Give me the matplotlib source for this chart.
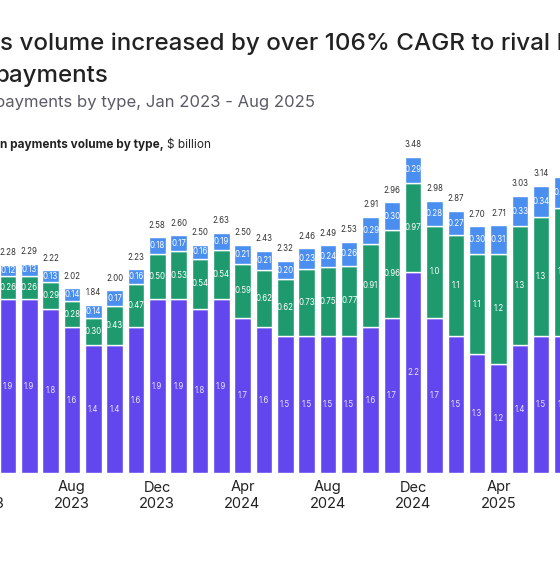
import matplotlib
matplotlib.use("Agg")
import matplotlib.pyplot as plt
import matplotlib.transforms as mtransforms

plt.rcParams['font.family'] = ['Inter', 'DejaVu Sans']

# Data (May 2023 .. Jul 2025), $ billion
months = ["May 2023", "Jun 2023", "Jul 2023", "Aug 2023", "Sep 2023", "Oct 2023", "Nov 2023", "Dec 2023",
          "Jan 2024", "Feb 2024", "Mar 2024", "Apr 2024", "May 2024", "Jun 2024", "Jul 2024", "Aug 2024",
          "Sep 2024", "Oct 2024", "Nov 2024", "Dec 2024", "Jan 2025", "Feb 2025", "Mar 2025", "Apr 2025",
          "May 2025", "Jun 2025", "Jul 2025"]
purple = [1.9, 1.9, 1.8, 1.6, 1.4, 1.4, 1.6, 1.9, 1.9, 1.8, 1.9, 1.7, 1.6, 1.5, 1.5, 1.5,
          1.5, 1.6, 1.7, 2.2, 1.7, 1.5, 1.3, 1.2, 1.4, 1.5, 1.5]
green = [0.26, 0.26, 0.29, 0.28, 0.30, 0.43, 0.47, 0.50, 0.53, 0.54, 0.54, 0.59, 0.62, 0.62, 0.73, 0.75,
         0.77, 0.91, 0.96, 0.97, 1.0, 1.1, 1.1, 1.2, 1.3, 1.3, 1.4]
blue = [0.12, 0.13, 0.13, 0.14, 0.14, 0.17, 0.16, 0.18, 0.17, 0.16, 0.19, 0.21, 0.21, 0.20, 0.23, 0.24,
        0.26, 0.29, 0.30, 0.29, 0.28, 0.27, 0.30, 0.31, 0.33, 0.34, 0.34]
totals = [2.28, 2.29, 2.22, 2.02, 1.84, 2.00, 2.23, 2.58, 2.60, 2.50, 2.63, 2.50, 2.43, 2.32, 2.46, 2.49,
          2.53, 2.91, 2.96, 3.48, 2.98, 2.87, 2.70, 2.71, 3.03, 3.14, 3.24]
tick_pos = [-1, 3, 7, 11, 15, 19, 23]
tick_month = ["Apr", "Aug", "Dec", "Apr", "Aug", "Dec", "Apr"]
tick_year = ["2023", "2023", "2023", "2024", "2024", "2024", "2025"]

C_PURPLE = "#6247ee"
C_GREEN = "#1f9a6e"
C_BLUE = "#4a8ef0"

W, H = 560, 576
fig = plt.figure(figsize=(W / 100, H / 100), dpi=100)
fig.patch.set_facecolor("white")

def fy(px):
    return 1 - px / H

base_px = 473.3
top_px = 140.0
ax = fig.add_axes([0, fy(base_px), 1, (base_px - top_px) / H])
pitch = 21.33
x0 = 7.9
ax.set_xlim((0 - x0) / pitch, (W - x0) / pitch)
ax.set_ylim(0, (base_px - top_px) / 91.5)
ax.axis("off")

x = list(range(len(months)))
bw = 0.78
ax.bar(x, purple, width=bw, color=C_PURPLE, edgecolor="white", linewidth=1.0)
bottom2 = [p for p in purple]
ax.bar(x, green, width=bw, bottom=bottom2, color=C_GREEN, edgecolor="white", linewidth=1.0)
bottom3 = [p + g for p, g in zip(purple, green)]
ax.bar(x, blue, width=bw, bottom=bottom3, color=C_BLUE, edgecolor="white", linewidth=1.0)

def fmt1(v):
    return f"{v:.1f}"

def fmt2(v):
    return f"{v:.2f}" if v < 1 else f"{v:.1f}"

for i in x:
    p, g, b, t = purple[i], green[i], blue[i], totals[i]
    ax.text(i, p / 2, fmt1(p), ha="center", va="center", color="#e8e4ff", fontsize=5.7)
    ax.text(i, p + g / 2, fmt2(g), ha="center", va="center", color="white", fontsize=5.7)
    ax.text(i, p + g + b / 2, fmt2(b), ha="center", va="center", color="white", fontsize=5.7)
    ax.annotate(f"{t:.2f}", (i, p + g + b), xytext=(0, 5.5), textcoords="offset points",
                ha="center", va="bottom", color="#333333", fontsize=5.7)

trans = mtransforms.blended_transform_factory(ax.transData, fig.transFigure)
for pos, m, yr in zip(tick_pos, tick_month, tick_year):
    ax.text(pos, fy(491.5), m, transform=trans, ha="center", va="baseline",
            fontsize=10.5, color="#222222", clip_on=False)
    ax.text(pos, fy(508), yr, transform=trans, ha="center", va="baseline",
            fontsize=10.5, color="#222222", clip_on=False)

fig.text(0.0, fy(50), "s volume increased by over 106% CAGR to rival P", ha="left", va="baseline",
         fontsize=17.4, fontweight="medium", color="#222222")
fig.text(-0.011, fy(82), "payments", ha="left", va="baseline",
         fontsize=17.4, fontweight="medium", color="#222222")
fig.text(-0.009, fy(107), "payments by type, Jan 2023 - Aug 2025", ha="left", va="baseline",
         fontsize=12, color="#5b5b66")
t1 = fig.text(0.0, fy(148), "n payments volume by type,", ha="left", va="baseline",
              fontsize=8.5, fontweight="bold", color="#222222")
fig.canvas.draw()
bb = t1.get_window_extent()
fig.text(bb.x1 / W + 0.006, fy(148), "$ billion", ha="left", va="baseline",
         fontsize=8.5, color="#222222")

fig.savefig("out.png", dpi=100)
